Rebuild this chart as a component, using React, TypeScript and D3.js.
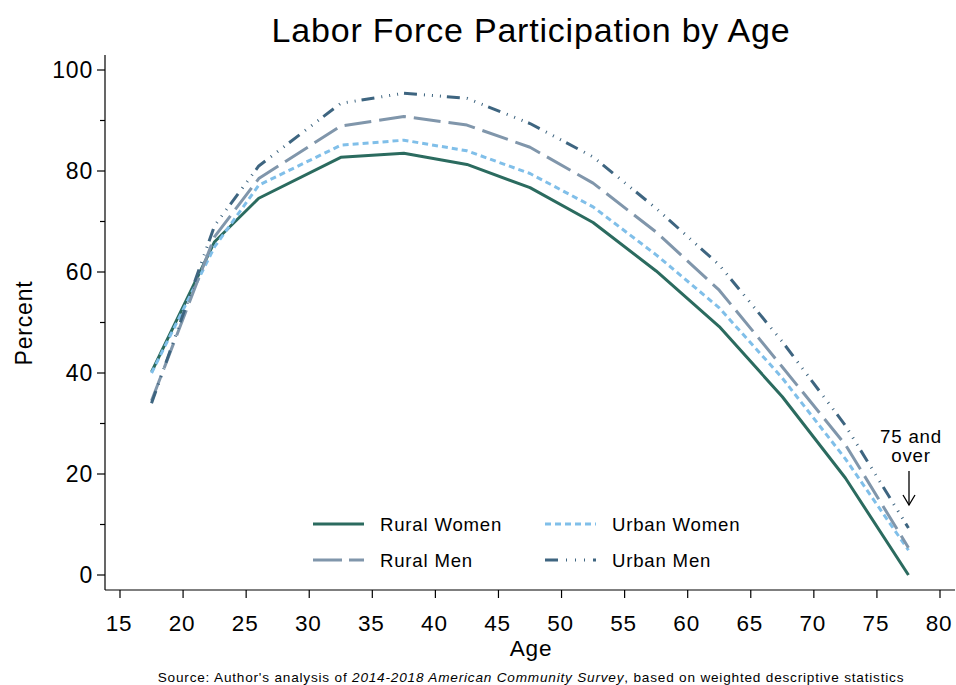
import React from "react";
import * as d3 from "d3";

const ages = [17.5, 22.5, 26, 32.5, 37.5, 42.5, 47.5, 52.5, 57.5, 62.5, 67.5, 72.5, 77.5];
const ruralWomen = [40.2, 66.0, 74.6, 82.7, 83.5, 81.3, 76.7, 69.8, 60.2, 49.2, 35.3, 19.2, 0];
const urbanWomen = [40.0, 65.0, 77.2, 85.1, 86.1, 84.0, 79.5, 72.9, 63.4, 52.9, 39.0, 23.0, 4.9];
const ruralMen = [34.5, 67.0, 78.5, 88.9, 90.8, 89.1, 84.7, 77.6, 67.9, 56.4, 41.2, 25.8, 5.4];
const urbanMen = [34.0, 69.2, 81.0, 93.4, 95.4, 94.4, 89.4, 82.8, 72.6, 61.4, 46.2, 29.6, 9.3];

const xTicks = [15, 20, 25, 30, 35, 40, 45, 50, 55, 60, 65, 70, 75, 80];
const yTicks = [0, 20, 40, 60, 80, 100];
const yMinor = [10, 30, 50, 70, 90];

const seriesNames = ["Rural Women", "Urban Women", "Rural Men", "Urban Men"];
const seriesValues = [ruralWomen, urbanWomen, ruralMen, urbanMen];
const seriesColors = ["#2b6b5f", "#80bfe9", "#8096ab", "#3e6580"];
const seriesDash = ["none", "6,4", "27,8", "13,7,1,7,1,7,1,6"];
const legendDash = ["none", "6,4", "29,7", "13,8,1,8,1,8,1,8"];

const FONT = "'Liberation Sans', Arial, Helvetica, sans-serif";
const LS = "0.05em";

export default function App() {
  const W = 956, H = 685;
  const x = d3.scaleLinear().domain([15, 80]).range([120, 940]);
  const y = d3.scaleLinear().domain([0, 100]).range([575, 70]);
  const axX = 105, axY = 590;
  const line = d3.line<[number, number]>().x(d => x(d[0])).y(d => y(d[1]));

  const legendItems = [
    { i: 0, lx: 313, ly: 524 },
    { i: 1, lx: 545, ly: 524 },
    { i: 2, lx: 313, ly: 560 },
    { i: 3, lx: 545, ly: 560 },
  ];

  return (
    <svg width={W} height={H} style={{ position: "absolute", left: 0, top: 0, background: "#fff" }} fontFamily={FONT} letterSpacing={LS}>
      <rect x={0} y={0} width={W} height={H} fill="#fff" />
      <text x={531} y={42} textAnchor="middle" fontSize={34} fill="#000">Labor Force Participation by Age</text>

      {/* axes */}
      <line x1={axX} y1={55} x2={axX} y2={axY} stroke="#000" strokeWidth={1.2} />
      <line x1={axX} y1={axY} x2={955} y2={axY} stroke="#000" strokeWidth={1.2} />
      {yTicks.map(t => (
        <g key={"yt" + t}>
          <line x1={axX - 8} x2={axX} y1={y(t)} y2={y(t)} stroke="#000" strokeWidth={1.2} />
          <text x={axX - 12} y={y(t) + 8.2} textAnchor="end" fontSize={23} fill="#000">{t}</text>
        </g>
      ))}
      {yMinor.map(t => (
        <line key={"ym" + t} x1={axX - 5} x2={axX} y1={y(t)} y2={y(t)} stroke="#000" strokeWidth={1.2} />
      ))}
      {xTicks.map(t => (
        <g key={"xt" + t}>
          <line x1={x(t)} x2={x(t)} y1={axY} y2={axY + 8} stroke="#000" strokeWidth={1.2} />
          <text x={x(t) - 1} y={axY + 41} textAnchor="middle" fontSize={22.5} fill="#000">{t}</text>
        </g>
      ))}
      <text x={531} y={656} textAnchor="middle" fontSize={22.6} fill="#000">Age</text>
      <text transform={`translate(32,323) rotate(-90)`} textAnchor="middle" fontSize={23} fill="#000">Percent</text>

      {/* lines */}
      {seriesValues.map((vals, i) => (
        <path key={"s" + i}
          d={line(ages.map((a, k) => [a, vals[k]] as [number, number])) || ""}
          fill="none" stroke={seriesColors[i]} strokeWidth={3}
          strokeDasharray={seriesDash[i]} strokeLinejoin="round" />
      ))}

      {/* annotation */}
      <text x={911} y={443} textAnchor="middle" fontSize={18.7} fill="#000">75 and</text>
      <text x={911} y={462} textAnchor="middle" fontSize={18.7} fill="#000">over</text>
      <line x1={909} x2={909} y1={471} y2={505} stroke="#000" strokeWidth={1.3} />
      <path d="M903,495 L909,505 L915,495" fill="none" stroke="#000" strokeWidth={1.3} />

      {/* legend */}
      {legendItems.map(({ i, lx, ly }) => (
        <g key={"lg" + i}>
          <line x1={lx} x2={lx + 51} y1={ly} y2={ly} stroke={seriesColors[i]} strokeWidth={3} strokeDasharray={legendDash[i]} />
          <text x={lx + 67} y={ly + 7} fontSize={18.6} fill="#000">{seriesNames[i]}</text>
        </g>
      ))}

      {/* source */}
      <text x={531} y={682} textAnchor="middle" fontSize={13.6} fill="#000">
        Source: Author's analysis of <tspan fontStyle="italic">2014-2018 American Community Survey</tspan>, based on weighted descriptive statistics
      </text>
    </svg>
  );
}
